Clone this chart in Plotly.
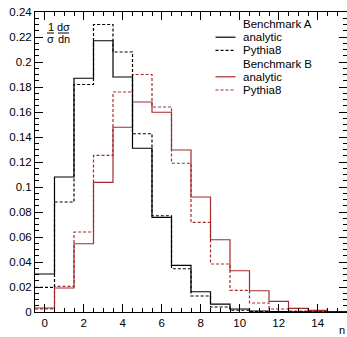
import numpy as np
import plotly.graph_objects as go

# ---------------- data ----------------
BIN_CENTERS = list(range(16))
A_ANALYTIC = [0.0304, 0.108, 0.187, 0.217, 0.188, 0.131, 0.0757, 0.0373,
              0.0162, 0.0063, 0.0024, 0.0008, 0.0003, 0.0001, 0.0, 0.0]
A_PYTHIA = [0.0197, 0.088, 0.182, 0.230, 0.208, 0.1426, 0.077, 0.0346,
            0.0128, 0.0040, 0.0014, 0.0004, 0.0001, 0.0, 0.0, 0.0]
B_ANALYTIC = [0.0032, 0.0192, 0.0546, 0.1037, 0.1478, 0.168, 0.1598, 0.1296,
              0.092, 0.0578, 0.033, 0.017, 0.0085, 0.0029, 0.0013, 0.0003]
B_PYTHIA = [0.0025, 0.0205, 0.064, 0.1253, 0.176, 0.190, 0.164, 0.119,
            0.0717, 0.0384, 0.0173, 0.0072, 0.0024, 0.0008, 0.0003, 0.0001]

X_TICKS = [0, 2, 4, 6, 8, 10, 12, 14]
Y_TICKS = [0, 0.02, 0.04, 0.06, 0.08, 0.1, 0.12, 0.14, 0.16, 0.18, 0.2, 0.22, 0.24]
Y_TICK_LABELS = ["0", "0.02", "0.04", "0.06", "0.08", "0.1", "0.12", "0.14",
                 "0.16", "0.18", "0.2", "0.22", "0.24"]

LEGEND_ROWS = ["Benchmark A", "analytic", "Pythia8", "Benchmark B", "analytic", "Pythia8"]

BLACK = "#000000"
RED = "#a52a2a"
FONT = "Liberation Sans, Arial, sans-serif"

W, H = 347, 337
ML, MR, MT, MB = 35, 0, 12, 25
PW, PH = W - ML - MR, H - MT - MB


def px_x(p):
    return (p - ML) / PW


def px_y(p):
    return (H - MB - p) / PH


centers = np.array(BIN_CENTERS, dtype=float)
edges = np.append(centers - 0.5, centers[-1] + 0.5)


def step_trace(vals, color, dash, name):
    y = list(vals) + [vals[-1]]
    return go.Scatter(x=edges, y=y, mode="lines", line_shape="hv",
                      line=dict(color=color, width=1.2, dash=dash),
                      name=name, showlegend=False, hoverinfo="skip")


fig = go.Figure()
fig.add_trace(step_trace(B_ANALYTIC, RED, "solid", "B analytic"))
fig.add_trace(step_trace(B_PYTHIA, RED, "3px,2px", "B Pythia8"))
fig.add_trace(step_trace(A_ANALYTIC, BLACK, "solid", "A analytic"))
fig.add_trace(step_trace(A_PYTHIA, BLACK, "3px,2px", "A Pythia8"))

annotations = []
shapes = []

# manual legend
row_y0, row_dy = 24.0, 13.2
styles = [None, (BLACK, "solid"), (BLACK, "dot"), None, (RED, "solid"), (RED, "dot")]
for i, (label, st) in enumerate(zip(LEGEND_ROWS, styles)):
    yy = row_y0 + i * row_dy
    annotations.append(dict(text=label, x=px_x(240.5), y=px_y(yy), xref="paper", yref="paper",
                            xanchor="left", yanchor="middle", showarrow=False,
                            font=dict(family=FONT, size=11.5, color="black")))
    if st is not None:
        shapes.append(dict(type="line", xref="paper", yref="paper",
                           x0=px_x(215.5), x1=px_x(235.5), y0=px_y(yy), y1=px_y(yy),
                           line=dict(color=st[0], width=1.2,
                                     dash="solid" if st[1] == "solid" else "3px,2px")))

# y-axis title as fraction (1/sigma dsigma/dn)
for txt, cx, cy in [("1", 50.5, 27.0), ("σ", 50.5, 39.0), ("dσ", 63.5, 27.0), ("dn", 63.5, 39.0)]:
    annotations.append(dict(text=txt, x=px_x(cx), y=px_y(cy), xref="paper", yref="paper",
                            xanchor="center", yanchor="middle", showarrow=False,
                            font=dict(family=FONT, size=11, color="black")))
for x0, x1 in [(47, 54), (58, 69)]:
    shapes.append(dict(type="line", xref="paper", yref="paper",
                       x0=px_x(x0), x1=px_x(x1), y0=px_y(33), y1=px_y(33),
                       line=dict(color="black", width=1)))

# x-axis title
annotations.append(dict(text="n", x=px_x(342.0), y=px_y(330.0), xref="paper", yref="paper",
                        xanchor="center", yanchor="middle", showarrow=False,
                        font=dict(family=FONT, size=11, color="black")))

fig.update_layout(
    width=W, height=H, autosize=False,
    margin=dict(l=ML, r=MR, t=MT, b=MB, pad=0),
    paper_bgcolor="white", plot_bgcolor="white",
    font=dict(family=FONT, size=11.5, color="black"),
    annotations=annotations, shapes=shapes,
    showlegend=False,
)
fig.update_xaxes(range=[edges[0], edges[-1]], tickvals=X_TICKS,
                 ticktext=[str(v) for v in X_TICKS],
                 ticks="inside", ticklen=8, tickwidth=1, tickcolor="black",
                 showline=True, linecolor="black", linewidth=1, mirror="ticks",
                 showgrid=False, zeroline=False,
                 minor=dict(dtick=0.5, ticks="inside", ticklen=4, tickcolor="black", showgrid=False),
                 tickfont=dict(family=FONT, size=11.5))
fig.update_yaxes(range=[0, 0.24], tickvals=Y_TICKS, ticktext=Y_TICK_LABELS,
                 ticks="inside", ticklen=8, tickwidth=1, tickcolor="black",
                 showline=True, linecolor="black", linewidth=1, mirror="ticks",
                 showgrid=False, zeroline=False,
                 minor=dict(dtick=0.005, ticks="inside", ticklen=4, tickcolor="black", showgrid=False),
                 tickfont=dict(family=FONT, size=11.5))

fig.write_html("out.html", config={"displayModeBar": False},
               post_script="document.body.style.margin='0';document.body.style.overflow='hidden';")
